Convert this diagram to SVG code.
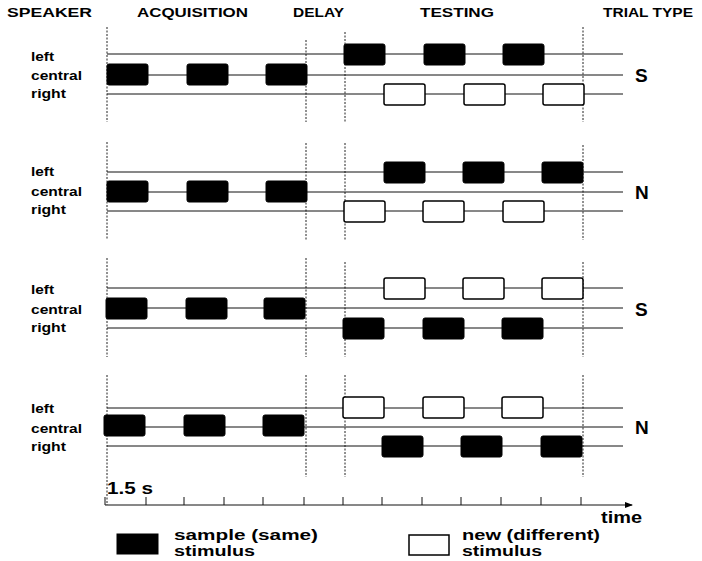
<svg xmlns="http://www.w3.org/2000/svg" width="702" height="561" viewBox="0 0 702 561">
  <defs>
    <style>
      .hdr { font-family: "Liberation Sans", Arial, sans-serif; font-weight: bold; font-size: 13.5px; fill: #000; }
      .row { font-family: "Liberation Sans", Arial, sans-serif; font-weight: bold; font-size: 12.5px; fill: #000; }
      .tt { font-family: "Liberation Sans", Arial, sans-serif; font-weight: bold; font-size: 19px; fill: #000; }
      .lg { font-family: "Liberation Sans", Arial, sans-serif; font-weight: bold; font-size: 16px; fill: #000; }
      .key { font-family: "Liberation Sans", Arial, sans-serif; font-weight: bold; font-size: 14px; fill: #000; }
      .track { stroke: #111; stroke-width: 1; fill: none; }
      .vdot { stroke: #222; stroke-width: 1; stroke-dasharray: 2 1.5; fill: none; }
      .on { fill: #000; stroke: #000; stroke-width: 1; }
      .off { fill: #fff; stroke: #000; stroke-width: 1.5; }
      .axis { stroke: #111; stroke-width: 1; fill: none; }
    </style>
    <marker id="arrow" markerWidth="8" markerHeight="6" refX="7" refY="3" orient="auto" markerUnits="userSpaceOnUse">
      <path d="M0,0 L8,3 L0,6 z" fill="#000"/>
    </marker>
    <rect id="stim" width="41" height="21" rx="2"/>
  </defs>
  <rect width="702" height="561" fill="#fff"/>

  <!-- column headings -->
  <g id="headings">
    <text class="hdr" x="7" y="17" textLength="85" lengthAdjust="spacingAndGlyphs">SPEAKER</text>
    <text class="hdr" x="137" y="17" textLength="111" lengthAdjust="spacingAndGlyphs">ACQUISITION</text>
    <text class="hdr" x="293" y="17" textLength="51" lengthAdjust="spacingAndGlyphs">DELAY</text>
    <text class="hdr" x="420" y="17" textLength="74" lengthAdjust="spacingAndGlyphs">TESTING</text>
    <text class="hdr" x="603" y="17" textLength="90" lengthAdjust="spacingAndGlyphs">TRIAL TYPE</text>
  </g>

  <!-- phase boundaries and speaker tracks -->
  <g id="connectors">
    <g id="phase-lines">
      <path class="vdot" d="M107,27V122 M306,40V122 M345,32V122 M583,27V122"/>
      <path class="vdot" d="M107,142V240 M306,143V240 M345,143V240 M583,145V240"/>
      <path class="vdot" d="M107,258V357 M306,258V357 M345,262V357 M583,262V357"/>
      <path class="vdot" d="M107,375V505 M306,375V477 M345,375V477 M583,375V477"/>
    </g>
    <g id="tracks">
      <path class="track" d="M107,54H623 M107,75H623 M107,94H623"/>
      <path class="track" d="M107,172H623 M107,192H623 M107,211H623"/>
      <path class="track" d="M107,288H623 M107,308H623 M107,328H623"/>
      <path class="track" d="M107,408H623 M107,427H623 M107,446H623"/>
    </g>
  </g>

  <!-- trial 1: same -->
  <g id="trial1">
    <text class="row" x="31" y="61" textLength="23" lengthAdjust="spacingAndGlyphs">left</text>
    <text class="row" x="31" y="80" textLength="51" lengthAdjust="spacingAndGlyphs">central</text>
    <text class="row" x="31" y="98" textLength="35" lengthAdjust="spacingAndGlyphs">right</text>
    <use href="#stim" class="on" x="107" y="64"/>
    <use href="#stim" class="on" x="187" y="64"/>
    <use href="#stim" class="on" x="266" y="64"/>
    <use href="#stim" class="on" x="344" y="44"/>
    <use href="#stim" class="on" x="424" y="44"/>
    <use href="#stim" class="on" x="503" y="44"/>
    <use href="#stim" class="off" x="384" y="84"/>
    <use href="#stim" class="off" x="464" y="84"/>
    <use href="#stim" class="off" x="543" y="84"/>
    <text class="tt" x="635" y="82">S</text>
  </g>

  <!-- trial 2: new -->
  <g id="trial2">
    <text class="row" x="31" y="176" textLength="23" lengthAdjust="spacingAndGlyphs">left</text>
    <text class="row" x="31" y="196" textLength="51" lengthAdjust="spacingAndGlyphs">central</text>
    <text class="row" x="31" y="214" textLength="35" lengthAdjust="spacingAndGlyphs">right</text>
    <use href="#stim" class="on" x="107" y="181"/>
    <use href="#stim" class="on" x="187" y="181"/>
    <use href="#stim" class="on" x="266" y="181"/>
    <use href="#stim" class="on" x="384" y="162"/>
    <use href="#stim" class="on" x="463" y="162"/>
    <use href="#stim" class="on" x="542" y="162"/>
    <use href="#stim" class="off" x="344" y="201"/>
    <use href="#stim" class="off" x="423" y="201"/>
    <use href="#stim" class="off" x="503" y="201"/>
    <text class="tt" x="635" y="199">N</text>
  </g>

  <!-- trial 3: same -->
  <g id="trial3">
    <text class="row" x="31" y="294" textLength="23" lengthAdjust="spacingAndGlyphs">left</text>
    <text class="row" x="31" y="314" textLength="51" lengthAdjust="spacingAndGlyphs">central</text>
    <text class="row" x="31" y="332" textLength="35" lengthAdjust="spacingAndGlyphs">right</text>
    <use href="#stim" class="on" x="106" y="298"/>
    <use href="#stim" class="on" x="186" y="298"/>
    <use href="#stim" class="on" x="264" y="298"/>
    <use href="#stim" class="off" x="384" y="278"/>
    <use href="#stim" class="off" x="463" y="278"/>
    <use href="#stim" class="off" x="542" y="278"/>
    <use href="#stim" class="on" x="343" y="318"/>
    <use href="#stim" class="on" x="423" y="318"/>
    <use href="#stim" class="on" x="502" y="318"/>
    <text class="tt" x="635" y="316">S</text>
  </g>

  <!-- trial 4: new -->
  <g id="trial4">
    <text class="row" x="31" y="413" textLength="23" lengthAdjust="spacingAndGlyphs">left</text>
    <text class="row" x="31" y="433" textLength="51" lengthAdjust="spacingAndGlyphs">central</text>
    <text class="row" x="31" y="451" textLength="35" lengthAdjust="spacingAndGlyphs">right</text>
    <use href="#stim" class="on" x="104" y="415"/>
    <use href="#stim" class="on" x="184" y="415"/>
    <use href="#stim" class="on" x="263" y="415"/>
    <use href="#stim" class="off" x="343" y="397"/>
    <use href="#stim" class="off" x="423" y="397"/>
    <use href="#stim" class="off" x="502" y="397"/>
    <use href="#stim" class="on" x="382" y="436"/>
    <use href="#stim" class="on" x="461" y="436"/>
    <use href="#stim" class="on" x="541" y="436"/>
    <text class="tt" x="635" y="434">N</text>
  </g>

  <!-- time axis -->
  <g id="time-axis">
    <path class="axis" d="M105,505H632" marker-end="url(#arrow)"/>
    <path class="axis" d="M105,497V505 M146,497V505 M184,497V505 M224,497V505 M263,497V505 M304,497V505 M343,497V505 M382,497V505 M422,497V505 M461,497V505 M501,497V505 M541,497V505 M581,497V505"/>
    <text class="lg" x="107" y="494" textLength="46" lengthAdjust="spacingAndGlyphs">1.5 s</text>
    <text class="lg" x="601" y="523" textLength="41" lengthAdjust="spacingAndGlyphs">time</text>
  </g>

  <!-- key -->
  <g id="legend-sample">
    <rect class="on" x="117" y="534" width="41" height="20"/>
    <text class="key" x="174" y="540" textLength="144" lengthAdjust="spacingAndGlyphs">sample (same)</text>
    <text class="key" x="174" y="556" textLength="81" lengthAdjust="spacingAndGlyphs">stimulus</text>
  </g>
  <g id="legend-new">
    <rect class="off" x="409" y="535" width="40" height="20"/>
    <text class="key" x="462" y="540" textLength="138" lengthAdjust="spacingAndGlyphs">new (different)</text>
    <text class="key" x="462" y="556" textLength="80" lengthAdjust="spacingAndGlyphs">stimulus</text>
  </g>
</svg>
